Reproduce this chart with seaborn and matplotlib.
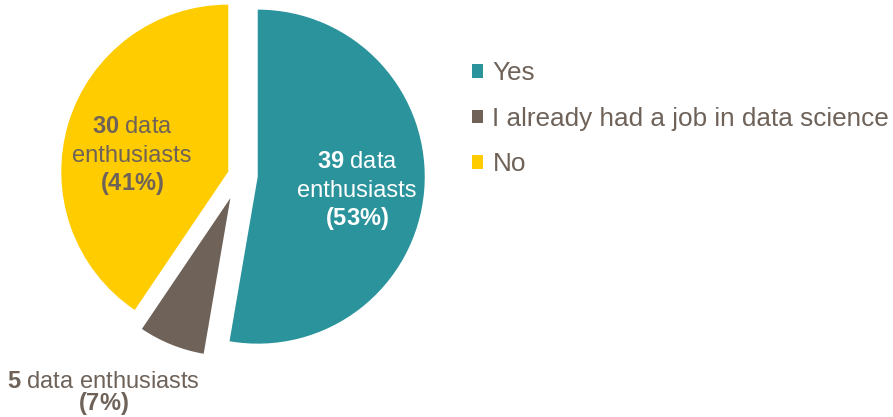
import matplotlib
matplotlib.use("Agg")
import matplotlib.pyplot as plt
import seaborn as sns

# Survey answers
categories = ["Yes", "I already had a job in data science", "No"]
counts = [39, 5, 30]
percents = [53, 7, 41]

sns.set_theme(style="white")
plt.rcParams["font.family"] = ["Liberation Sans", "DejaVu Sans"]
plt.rcParams["mathtext.fontset"] = "custom"
plt.rcParams["mathtext.rm"] = "Liberation Sans"
plt.rcParams["mathtext.bf"] = "Liberation Sans:bold"

palette = sns.color_palette(["#2A939B", "#6E6259", "#FFCC00"])
text_color = "#6E6259"

W, H = 893, 417
fig = plt.figure(figsize=(W / 100, H / 100), dpi=100)

# pie centre and radius in pixels
cx, cy, R = 239.6, 175.1, 167.0
half = 230.0
ax = fig.add_axes([(cx - half) / W, (H - cy - half) / H, 2 * half / W, 2 * half / H])

wedges, _ = ax.pie(
    counts,
    colors=palette,
    startangle=90,
    counterclock=False,
    explode=[0.109, 0.148, 0.071],
    radius=1.0,
    wedgeprops=dict(linewidth=0),
)
wedges[1].set_radius(0.946)
for w in wedges:
    w.set_clip_on(False)

lim = half / R
ax.set_xlim(-lim, lim)
ax.set_ylim(-lim, lim)
ax.set_aspect("equal")
ax.axis("off")

fs = 17


def px(x, y):
    return x / W, 1 - y / H


def label(lines, x, baselines, color):
    for txt, yb in zip(lines, baselines):
        fig.text(*px(x, yb), txt, ha="center", va="baseline",
                 fontsize=fs, color=color)


# Yes
label([rf"$\mathbf{{{counts[0]}}}$ data", "enthusiasts",
       rf"$\mathbf{{({percents[0]}\%)}}$"],
      357, [168.5, 197, 225.5], "white")
# No
label([rf"$\mathbf{{{counts[2]}}}$ data", "enthusiasts",
       rf"$\mathbf{{({percents[2]}\%)}}$"],
      132, [132.7, 161.5, 190], text_color)
# Already had a job
label([rf"$\mathbf{{{counts[1]}}}$ data enthusiasts",
       rf"$\mathbf{{({percents[1]}\%)}}$"],
      103.5, [387.7, 410], text_color)

leg = fig.legend(
    wedges, categories,
    loc="upper left",
    bbox_to_anchor=px(472.3, 61.5),
    frameon=False,
    fontsize=18.8,
    labelcolor=text_color,
    handlelength=0.41,
    handleheight=0.41,
    handletextpad=0.36,
    labelspacing=0.82,
    borderpad=0,
    borderaxespad=0,
)

fig.savefig("out.png", dpi=100, facecolor="white")
